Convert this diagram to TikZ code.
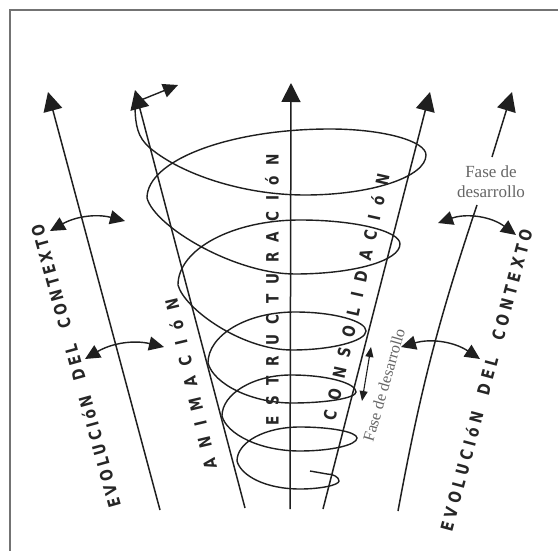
\documentclass[tikz,border=0pt]{standalone}
\usepackage{fontspec}
\usetikzlibrary{arrows.meta}
\newfontfamily\capfont{DejaVu Sans}[FakeStretch=0.8]
\newfontfamily\serifone{Liberation Serif}
\newdimen\lsk
\newdimen\lgap
\def\spreadtext#1{\spreadB#1\relax}
\def\spreadB#1{#1\spreadA}
\def\spreadA#1{\ifx\relax#1\else\ifx|#1\kern\lgap\else\kern\lsk#1\fi\expandafter\spreadA\fi}
\tikzset{
  axisline/.style={line width=1.5pt, draw=black!88, -{Triangle[length=19pt,width=19pt]}},
  ctxarrow/.style={line width=1.4pt, draw=black!88, {Triangle[length=15pt,width=14pt]}-{Triangle[length=15pt,width=14pt]}},
  smallarrow/.style={line width=1.1pt, draw=black!88, {Triangle[length=10pt,width=8pt]}-{Triangle[length=10pt,width=8pt]}},
  spiral/.style={line width=1.4pt, draw=black!88},
  captext/.style={font=\capfont\bfseries\fontsize{17}{17}\selectfont, text=black!85, inner sep=0pt},
  fasetext/.style={font=\serifone\fontsize{17}{20}\selectfont, text=black!60, inner sep=0pt, align=center},
  q/.style n args={4}{out=#1,in=#2,out distance=#3pt,in distance=#4pt}
}
\begin{document}
\begin{tikzpicture}[x=1pt,y=1pt]
\useasboundingbox (0,0) rectangle (558,-551);
\fill[white] (0,0) rectangle (558,-551);
% frame
\draw[line width=1.6pt, draw=black!55] (10,-551) -- (10,-10) -- (558,-10);

% axis end points
\coordinate (a0) at (160,-510); \coordinate (a1) at (48,-92);
\coordinate (b0) at (245,-508); \coordinate (b1) at (135,-90);
\coordinate (c0) at (290,-509); \coordinate (c1) at (291,-83);
\coordinate (d0) at (323,-509); \coordinate (d1) at (430,-92);
\coordinate (e0) at (398,-511); \coordinate (e1) at (477,-205);
\coordinate (e2) at (492,-157); \coordinate (e3) at (512,-92);

\draw[axisline] (a0) -- (a1);
\draw[axisline] (b0) -- (b1);
\draw[axisline] (c0) -- (c1);
\draw[axisline] (d0) -- (d1);
\draw[line width=1.5pt, draw=black!88] (e0) to[bend left=4] (e1);
\draw[axisline] (e2) -- (e3);

% spiral points
\coordinate (S) at (135,-108);
\coordinate (P) at (150,-148);
\coordinate (B1) at (305,-195); \coordinate (R1) at (426,-155); \coordinate (T1) at (330,-129); \coordinate (L1) at (147,-198);
\coordinate (B2) at (295,-274); \coordinate (R2) at (400,-244); \coordinate (T2) at (300,-220); \coordinate (L2) at (178,-285);
\coordinate (B3) at (292,-350); \coordinate (R3) at (366,-331); \coordinate (T3) at (295,-312); \coordinate (L3) at (208,-363);
\coordinate (B4) at (292,-403); \coordinate (R4) at (356,-392); \coordinate (T4) at (291,-375); \coordinate (L4) at (222,-416);
\coordinate (B5) at (300,-451); \coordinate (R5) at (357,-438); \coordinate (T5) at (300,-427); \coordinate (L5) at (237,-461);
\coordinate (B6) at (300,-489); \coordinate (R6) at (339,-481); \coordinate (Q) at (327,-474); \coordinate (Z) at (310,-471);

\draw[spiral] (S) to[out=-88,in=140] (P)
  to[q={-40}{180}{40}{63}] (B1)
  to[q={0}{-90}{66}{22}] (R1)
  to[q={90}{0}{14}{53}] (T1)
  to[q={180}{90}{100}{38}] (L1)
  to[q={-75}{180}{30}{60}] (B2)
  to[q={0}{-90}{58}{17}] (R2)
  to[q={90}{0}{13}{55}] (T2)
  to[q={180}{90}{67}{36}] (L2)
  to[q={-75}{180}{25}{50}] (B3)
  to[q={0}{-90}{40}{10}] (R3)
  to[q={90}{0}{10}{39}] (T3)
  to[q={180}{90}{48}{28}] (L3)
  to[q={-75}{180}{22}{40}] (B4)
  to[q={0}{-90}{35}{6}] (R4)
  to[q={90}{0}{9}{36}] (T4)
  to[q={180}{90}{38}{22}] (L4)
  to[q={-75}{180}{19}{40}] (B5)
  to[q={0}{-90}{31}{7}] (R5)
  to[q={90}{0}{6}{31}] (T5)
  to[q={180}{90}{35}{19}] (L5)
  to[q={-75}{180}{15}{35}] (B6)
  to[q={0}{-90}{21}{4}] (R6)
  to[q={90}{0}{4}{6}] (Q)
  -- (Z);

% small arrow at top of ANIMACION axis
\coordinate (ta0) at (141,-100); \coordinate (ta1) at (178,-85);
\draw[line width=1.4pt, draw=black!88, -{Triangle[length=15pt,width=14pt]}] (ta0) -- (ta1);

% context double arrows
\coordinate (lu0) at (50,-231); \coordinate (lu1) at (125,-221);
\coordinate (ll0) at (85,-359); \coordinate (ll1) at (164,-347);
\coordinate (ru0) at (438,-223); \coordinate (ru1) at (516,-235);
\coordinate (rl0) at (401,-347); \coordinate (rl1) at (480,-359);
\draw[ctxarrow] (lu0) to[bend left=22] (lu1);
\draw[ctxarrow] (ll0) to[bend left=22] (ll1);
\draw[ctxarrow] (ru0) to[bend left=28] (ru1);
\draw[ctxarrow] (rl0) to[bend left=25] (rl1);

% small development arrow
\coordinate (da0) at (362,-401); \coordinate (da1) at (371,-347);
\draw[smallarrow] (da0) -- (da1);

% texts
\node[captext, rotate=105.5] (ctxL) at (75.5,-366) {\lsk=3.6pt\lgap=13pt\spreadtext{EVOLUCIóN|DEL|CONTEXTO}};
\node[captext, rotate=103.3] (anim) at (190.5,-384) {\lsk=11pt\spreadtext{ANIMACIóN}};
\node[captext, rotate=90] (estr) at (272,-290) {\lsk=10.3pt\spreadtext{ESTRUCTURACIóN}};
\node[captext, rotate=77.4] (cons) at (356,-297) {\lsk=10.5pt\spreadtext{CONSOLIDACIóN}};
\node[captext, rotate=75] (ctxR) at (486,-380) {\lsk=4.5pt\lgap=14pt\spreadtext{EVOLUCIóN|DEL|CONTEXTO}};

\node[fasetext] (fase1) at (491,-182) {Fase de\\desarrollo};
\node[fasetext, font=\serifone\fontsize{16}{18}\selectfont, rotate=74] (fase2) at (384,-385) {Fase de desarrollo};
\end{tikzpicture}
\end{document}
